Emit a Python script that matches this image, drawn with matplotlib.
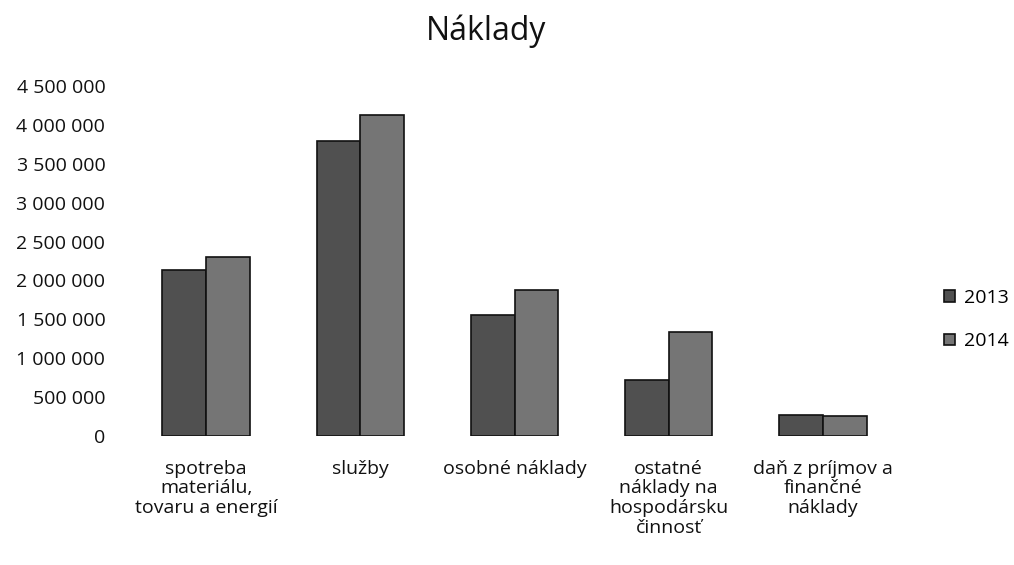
import matplotlib
matplotlib.use("Agg")
import matplotlib.pyplot as plt
import numpy as np
from matplotlib.ticker import FuncFormatter

plt.rcParams['font.family'] = ['Open Sans', 'DejaVu Sans']

categories = ["spotreba\nmateriálu,\ntovaru a energií", "služby", "osobné náklady",
              "ostatné\nnáklady na\nhospodársku\nčinnosť", "daň z príjmov a\nfinančné\nnáklady"]
series_names = ["2013", "2014"]
values_2013 = [2130000, 3790000, 1560000, 720000, 270000]
values_2014 = [2300000, 4130000, 1880000, 1340000, 260000]
colors = ["#505050", "#757575"]

fig = plt.figure(figsize=(10.14, 5.65), dpi=100)
ax = fig.add_axes([0.1272, 0.2283, 0.7604, 0.6195])

x = np.arange(len(categories))
w = 0.283
ax.bar(x - w / 2, values_2013, w, color=colors[0], edgecolor="#111111", linewidth=1.2, label=series_names[0])
ax.bar(x + w / 2, values_2014, w, color=colors[1], edgecolor="#111111", linewidth=1.2, label=series_names[1])

ax.set_xlim(-0.5, len(categories) - 0.5)
ax.set_ylim(0, 4500000)
ax.set_yticks(np.arange(0, 4500001, 500000))
ax.yaxis.set_major_formatter(FuncFormatter(lambda v, p: f"{int(v):,}".replace(",", " ")))
ax.set_xticks(x)
ax.set_xticklabels(categories, fontsize=14, linespacing=1.13, va="top")
for s in ax.spines.values():
    s.set_visible(False)
ax.tick_params(axis="both", length=0, labelsize=14, colors="#111111")
ax.tick_params(axis="x", pad=17)
ax.tick_params(axis="y", pad=17)

fig.text(0.479, 0.945, "Náklady", ha="center", va="center", fontsize=23, color="#111111")

leg = fig.legend(loc="center left", bbox_to_anchor=(0.914, 0.434), frameon=False, fontsize=14,
                 handlelength=0.55, handleheight=0.55, handletextpad=0.45, labelspacing=1.3)

fig.savefig("out.png", dpi=100)
